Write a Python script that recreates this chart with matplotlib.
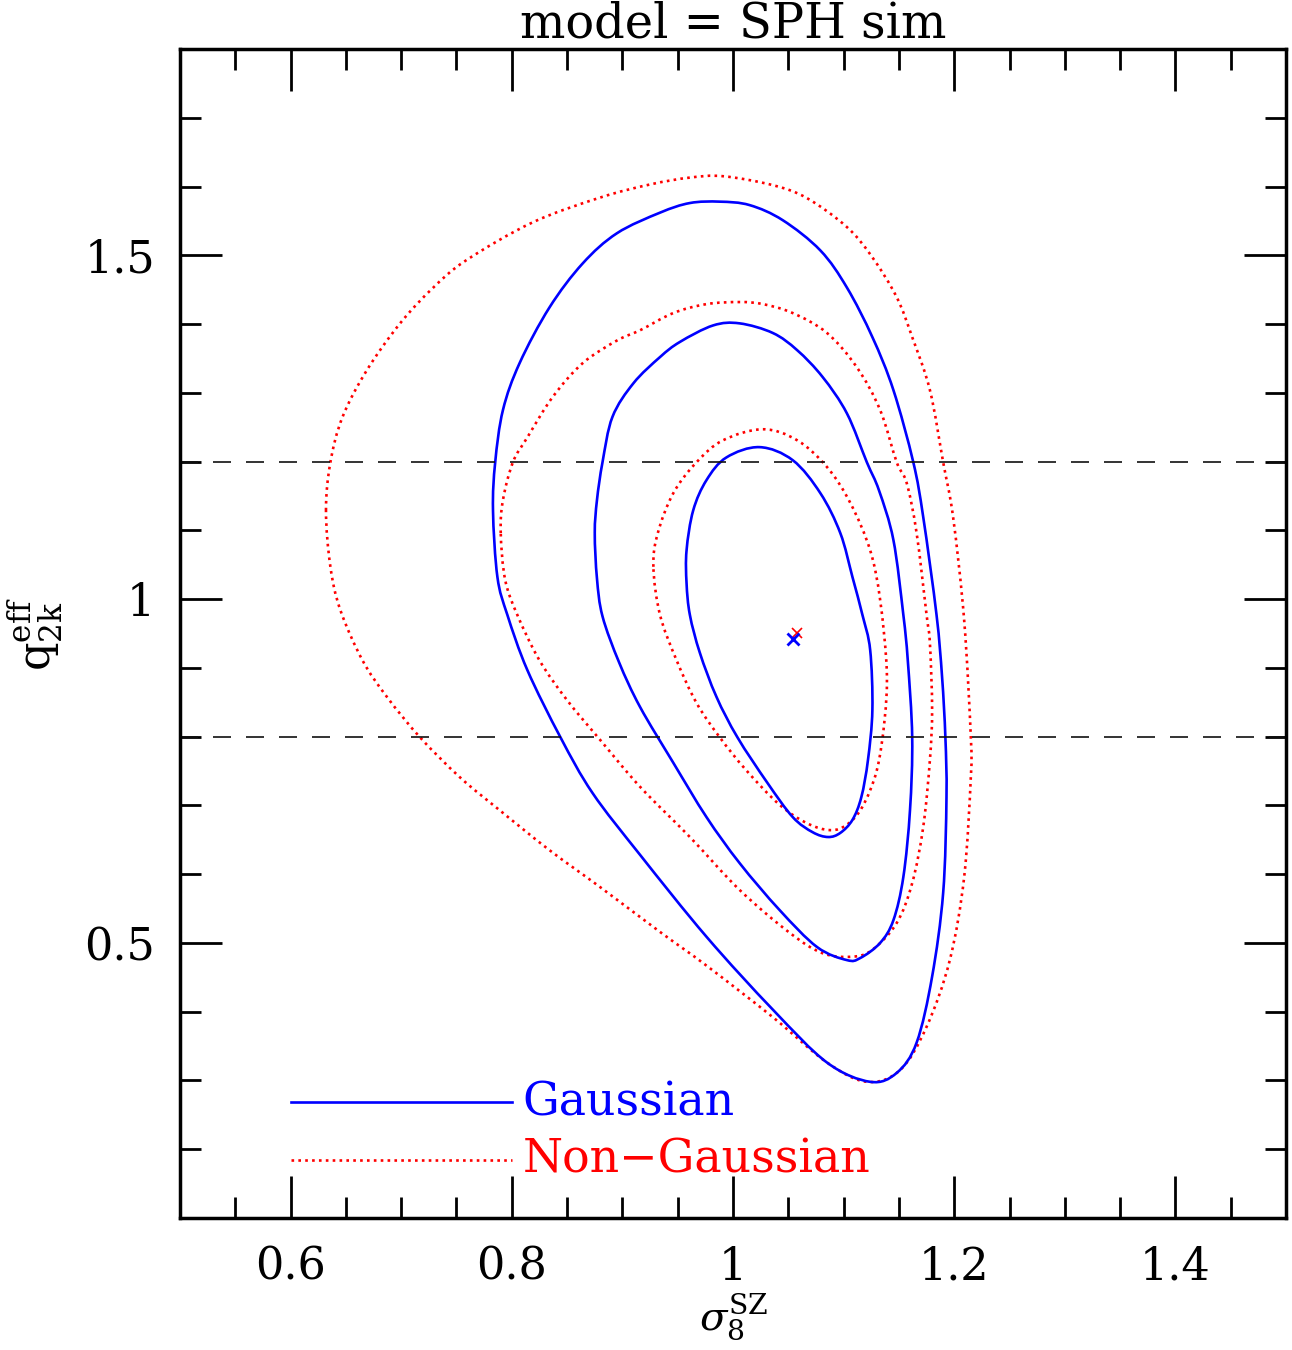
import matplotlib
matplotlib.use("Agg")
import matplotlib.pyplot as plt
from matplotlib.path import Path
from matplotlib.patches import PathPatch
import numpy as np

# contour outlines (sigma8, q2k), closed curves
# Gaussian (blue), inner -> outer
gauss1_x = [0.958, 0.964, 0.976, 0.994, 1.024, 1.054, 1.079, 1.097, 1.108, 1.117, 1.124, 1.126,
            1.122, 1.116, 1.108, 1.097, 1.086, 1.072, 1.054, 1.031, 1.004, 0.985, 0.970, 0.961, 0.958]
gauss1_y = [1.071, 1.129, 1.173, 1.206, 1.221, 1.202, 1.154, 1.096, 1.032, 0.977, 0.926, 0.839,
            0.766, 0.712, 0.679, 0.660, 0.654, 0.661, 0.683, 0.733, 0.799, 0.858, 0.922, 0.977, 1.023]

gauss2_x = [0.875, 0.877, 0.882, 0.891, 0.910, 0.934, 0.952, 0.982, 1.006, 1.036, 1.058, 1.081,
            1.103, 1.121, 1.132, 1.145, 1.154, 1.158, 1.162, 1.160, 1.154, 1.145, 1.133, 1.115,
            1.103, 1.076, 1.042, 1.006, 0.976, 0.946, 0.916, 0.897, 0.882, 0.877]
gauss2_y = [1.096, 1.144, 1.199, 1.265, 1.314, 1.352, 1.374, 1.398, 1.401, 1.387, 1.362, 1.323,
            1.270, 1.199, 1.158, 1.086, 0.977, 0.911, 0.799, 0.693, 0.596, 0.533, 0.500, 0.478,
            0.475, 0.494, 0.548, 0.616, 0.683, 0.762, 0.843, 0.908, 0.975, 1.030]

gauss3_x = [0.783, 0.785, 0.792, 0.807, 0.834, 0.864, 0.895, 0.934, 0.961, 0.988, 1.015, 1.045,
            1.079, 1.103, 1.126, 1.145, 1.163, 1.172, 1.184, 1.189, 1.192, 1.193, 1.190, 1.180,
            1.166, 1.148, 1.124, 1.085, 1.036, 0.976, 0.916, 0.873, 0.844, 0.814, 0.796, 0.787]
gauss3_y = [1.129, 1.199, 1.275, 1.343, 1.424, 1.488, 1.532, 1.562, 1.576, 1.578, 1.573, 1.551,
            1.507, 1.453, 1.381, 1.304, 1.199, 1.119, 0.977, 0.887, 0.799, 0.712, 0.573, 0.451,
            0.355, 0.311, 0.298, 0.326, 0.403, 0.509, 0.628, 0.718, 0.799, 0.897, 0.977, 1.032]

# Non-Gaussian (red), inner -> outer
nongauss1_x = [0.928, 0.932, 0.946, 0.967, 0.991, 1.027, 1.058, 1.085, 1.106, 1.124, 1.133,
               1.139, 1.137, 1.130, 1.117, 1.103, 1.088, 1.067, 1.042, 1.012, 0.988, 0.967, 0.949, 0.934]
nongauss1_y = [1.047, 1.096, 1.154, 1.199, 1.231, 1.247, 1.231, 1.192, 1.140, 1.071, 0.999,
               0.897, 0.824, 0.751, 0.698, 0.672, 0.664, 0.674, 0.701, 0.751, 0.799, 0.849, 0.911, 0.977]

nongauss2_x = [0.790, 0.792, 0.801, 0.814, 0.837, 0.864, 0.895, 0.916, 0.946, 0.976, 1.006, 1.027,
               1.054, 1.085, 1.112, 1.133, 1.148, 1.157, 1.166, 1.175, 1.178, 1.180, 1.178, 1.172,
               1.162, 1.148, 1.126, 1.108, 1.081, 1.051, 1.006, 0.961, 0.916, 0.880, 0.850, 0.825,
               0.805, 0.794]
nongauss2_y = [1.096, 1.144, 1.199, 1.235, 1.294, 1.343, 1.376, 1.391, 1.416, 1.429, 1.432, 1.429,
               1.416, 1.387, 1.337, 1.275, 1.199, 1.169, 1.096, 0.977, 0.936, 0.839, 0.766, 0.669,
               0.587, 0.529, 0.490, 0.480, 0.485, 0.515, 0.577, 0.654, 0.727, 0.795, 0.853, 0.911,
               0.977, 1.028]

nongauss3_x = [0.632, 0.636, 0.647, 0.669, 0.699, 0.729, 0.759, 0.819, 0.880, 0.925, 0.961, 0.991,
               1.036, 1.067, 1.103, 1.126, 1.148, 1.162, 1.178, 1.190, 1.199, 1.209, 1.215, 1.215,
               1.209, 1.196, 1.175, 1.151, 1.121, 1.085, 1.036, 0.976, 0.934, 0.880, 0.834, 0.789,
               0.753, 0.717, 0.687, 0.665, 0.645, 0.636]
nongauss3_y = [1.129, 1.199, 1.265, 1.333, 1.401, 1.453, 1.493, 1.548, 1.584, 1.603, 1.613, 1.615,
               1.602, 1.583, 1.541, 1.497, 1.439, 1.381, 1.304, 1.199, 1.119, 0.969, 0.799, 0.741,
               0.596, 0.475, 0.378, 0.315, 0.298, 0.326, 0.392, 0.467, 0.516, 0.581, 0.635, 0.693,
               0.741, 0.799, 0.858, 0.911, 0.984, 1.047]

# best-fit points
best_gauss = (1.054, 0.942)
best_nongauss = (1.058, 0.951)

# prior band on q2k
q_band = [0.8, 1.2]

plt.rcParams['font.family'] = ['DejaVu Serif']
plt.rcParams['mathtext.fontset'] = 'dejavuserif'

fig = plt.figure(figsize=(12.92, 13.5), dpi=100)
ax = fig.add_axes([0.1393, 0.0978, 0.8561, 0.8659])

red_style = dict(color='red', lw=1.9, linestyle=(0, (1, 1.6)))
blue_style = dict(color='blue', lw=1.9)


def smooth_closed_path(xs, ys):
    # closed curve through the read points, drawn as cubic bezier segments
    p = np.column_stack([xs, ys])
    n = len(p)
    verts = [p[0]]
    codes = [Path.MOVETO]
    for i in range(n):
        p0, p1, p2, p3 = p[i - 1], p[i], p[(i + 1) % n], p[(i + 2) % n]
        verts += [p1 + (p2 - p0) / 6.0, p2 - (p3 - p1) / 6.0, p2]
        codes += [Path.CURVE4] * 3
    return Path(verts, codes)


for xs, ys in [(nongauss1_x, nongauss1_y), (nongauss2_x, nongauss2_y), (nongauss3_x, nongauss3_y)]:
    ax.add_patch(PathPatch(smooth_closed_path(xs, ys), fill=False, edgecolor='red',
                           lw=red_style['lw'], linestyle=red_style['linestyle']))

for xs, ys in [(gauss1_x, gauss1_y), (gauss2_x, gauss2_y), (gauss3_x, gauss3_y)]:
    ax.add_patch(PathPatch(smooth_closed_path(xs, ys), fill=False, edgecolor='blue',
                           lw=blue_style['lw']))

ax.plot([best_nongauss[0]], [best_nongauss[1]], marker='x', color='red', ms=7, mew=1.2, ls='none')
ax.plot([best_gauss[0]], [best_gauss[1]], marker='x', color='blue', ms=8, mew=2, ls='none')

for q in q_band:
    ax.axhline(q, color='#111111', lw=1.2, dashes=(10.8, 9))

# legend drawn by hand like the original
ax.plot([0.6, 0.8], [0.268, 0.268], **blue_style)
ax.plot([0.6, 0.8], [0.184, 0.184], **red_style)
ax.text(0.81, 0.268, 'Gaussian', color='blue', fontsize=33, va='center', ha='left')
ax.text(0.81, 0.184, 'Non\u2212Gaussian', color='red', fontsize=33, va='center', ha='left')

ax.set_xlim(0.5, 1.5)
ax.set_ylim(0.1, 1.8)
ax.set_xticks([0.6, 0.8, 1.0, 1.2, 1.4])
ax.set_xticklabels(['0.6', '0.8', '1', '1.2', '1.4'])
ax.set_xticks(np.arange(0.55, 1.5, 0.05), minor=True)
ax.set_yticks([0.5, 1.0, 1.5])
ax.set_yticklabels(['0.5', '1', '1.5'])
ax.set_yticks(np.arange(0.2, 1.8, 0.1), minor=True)

ax.tick_params(which='both', direction='in', top=True, right=True, width=2, colors='black')
ax.tick_params(which='major', length=30, labelsize=32)
ax.tick_params(axis='x', which='major', pad=20)
ax.tick_params(axis='y', which='major', pad=18)
ax.tick_params(which='minor', length=15)
for sp in ax.spines.values():
    sp.set_linewidth(2.5)

ax.set_title('model = SPH sim', fontsize=34.5, pad=8)
ax.set_xlabel(r'$\sigma_8^{\rm SZ}$', fontsize=29, labelpad=2)
ax.set_ylabel(r'$\mathrm{q}^{\rm eff}_{\rm 2k}$', fontsize=32, labelpad=14)

fig.savefig('out.png', dpi=100)
